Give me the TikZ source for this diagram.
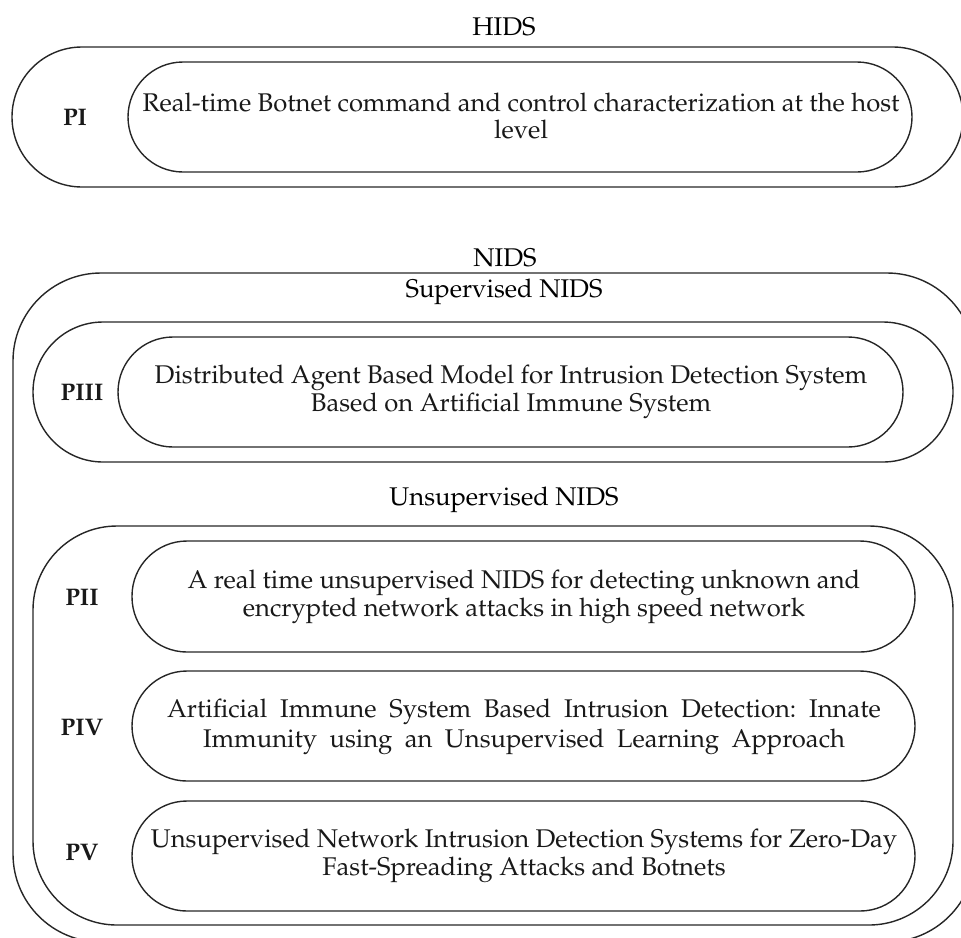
\documentclass[tikz,border=0pt]{standalone}
\usepackage[T1]{fontenc}
\usepackage{mathpazo}
\usepackage{tikz}
\tikzset{
  % Rounded frames: the groups and the single papers
  group frame/.style={draw=black!85,line width=0.7pt,rounded corners=35pt},
  paper frame/.style={draw=black!85,line width=0.7pt,rounded corners=27.5pt},
  paper label/.style={font=\fontsize{12}{14}\selectfont\bfseries,text=black!90},
  paper text/.style={align=center,text=black!90}
}

\begin{document}
\frenchspacing
\begin{tikzpicture}[x=0.5pt,y=-0.5pt,font=\fontsize{12.8}{13.5}\selectfont]
  \useasboundingbox (0,0) rectangle (961,937);
  \clip (0,0) rectangle (961,937);
  % HIDS
  \node (hids) at (504,27) {HIDS};
  \draw[group frame] (12,47) rectangle (963,187);
  \draw[paper frame] (128,62) rectangle (912,172);
  \node (pI)[paper label] at (75,118) {PI};
  \node (tI)[paper text] at (521,116) {Real-time Botnet command and control characterization at the host\\level};
  % NIDS
  \node (nids) at (505,258) {NIDS};
  \draw[group frame,rounded corners=44pt] (13,273) rectangle (975,942);
  % supervised
  \node (sup) at (504,292) {Supervised NIDS};
  \draw[group frame] (33,322) rectangle (953,462);
  \draw[paper frame] (118,337) rectangle (903,447);
  \node (pIII)[paper label] at (82,393) {PIII};
  \node (tIII)[paper text,font=\fontsize{12.8}{12.5}\selectfont] at (511,392) {Distributed Agent Based Model for Intrusion Detection System\\Based on Artificial Immune System};
  % unsupervised
  \node (unsup) at (504,500) {Unsupervised NIDS};
  \draw[group frame,rounded corners=42pt] (33,526) rectangle (953,925);
  \draw[paper frame] (132,541) rectangle (915,652);
  \draw[paper frame] (132,671) rectangle (915,781);
  \draw[paper frame] (132,801) rectangle (915,911);
  \node (pII)[paper label] at (82,598) {PII};
  \node (pIV)[paper label] at (82,728) {PIV};
  \node (pV)[paper label] at (82,853) {PV};
  \node (tII)[paper text,font=\fontsize{12.8}{14}\selectfont] at (524,597) {A real time unsupervised NIDS for detecting unknown and\\encrypted network attacks in high speed network};
  \node (tIV)[paper text,font=\fontsize{12.8}{15}\selectfont] at (524,727) {\makebox[357pt][s]{Artificial Immune System Based Intrusion Detection: Innate}\\\makebox[321pt][s]{Immunity using an Unsupervised Learning Approach}};
  \node (tV)[paper text,font=\fontsize{12.8}{14}\selectfont] at (524,856) {Unsupervised Network Intrusion Detection Systems for Zero-Day\\Fast-Spreading Attacks and Botnets};
\end{tikzpicture}
\end{document}
